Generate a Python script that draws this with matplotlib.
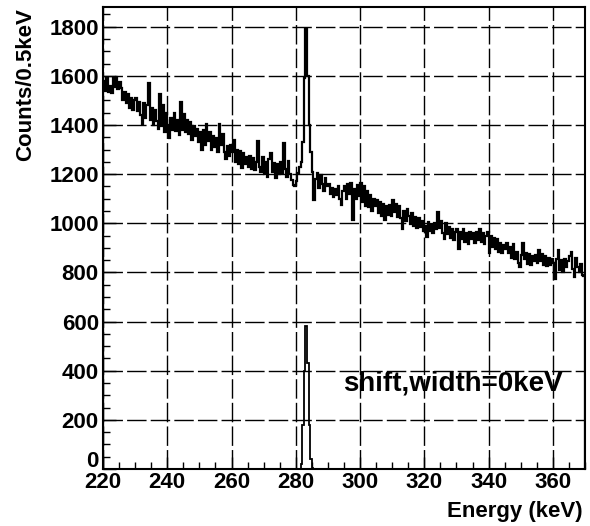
#!/usr/bin/env python3
# energy spectrum with peak at ~283 keV, ROOT-like look

import numpy as np
import matplotlib.pyplot as plt
import matplotlib.transforms as mtransforms

plt.rcParams['font.family'] = ['Liberation Sans', 'DejaVu Sans']
plt.rcParams['font.weight'] = 'bold'

# histogram binning (keV)
e_min, e_max, bin_width = 220.0, 370.0, 0.5

# total counts per 0.5 keV bin, 220 -> 370 keV (10 bins per row = 5 keV)
counts = [
    1580, 1540, 1590, 1535, 1560, 1530, 1590, 1555, 1595, 1545,   # 220
    1575, 1550, 1500, 1535, 1490, 1525, 1470, 1510, 1460, 1500,   # 225
    1510, 1455, 1495, 1440, 1405, 1490, 1430, 1480, 1570, 1420,   # 230
    1470, 1400, 1460, 1415, 1385, 1525, 1395, 1480, 1370, 1450,   # 235
    1400, 1345, 1430, 1380, 1450, 1375, 1420, 1360, 1495, 1380,   # 240
    1445, 1370, 1420, 1365, 1410, 1340, 1395, 1355, 1385, 1330,   # 245
    1370, 1300, 1380, 1320, 1405, 1335, 1370, 1300, 1355, 1310,   # 250
    1345, 1290, 1405, 1320, 1365, 1290, 1260, 1315, 1275, 1320,   # 255
    1290, 1340, 1250, 1300, 1240, 1295, 1225, 1285, 1240, 1270,   # 260
    1230, 1275, 1220, 1265, 1215, 1250, 1335, 1230, 1210, 1270,   # 265
    1200, 1250, 1190, 1260, 1285, 1210, 1245, 1185, 1240, 1200,   # 270
    1250, 1205, 1325, 1220, 1190, 1255, 1200, 1175, 1155, 1150,   # 275
    1170, 1205, 1230, 1250, 1330, 1590, 1790, 1600, 1400, 1290,   # 280
    1210, 1095, 1180, 1205, 1145, 1195, 1160, 1130, 1185, 1150,   # 285
    1160, 1120, 1145, 1105, 1140, 1115, 1150, 1100, 1075, 1130,   # 290
    1150, 1100, 1160, 1120, 1165, 1015, 1140, 1100, 1155, 1110,   # 295
    1165, 1085, 1150, 1070, 1130, 1065, 1115, 1050, 1100, 1070,   # 300
    1095, 1040, 1085, 1030, 1080, 1015, 1070, 1035, 1075, 1030,   # 305
    1095, 1045, 1080, 1025, 1070, 1020, 975, 1050, 1010, 1060,    # 310
    1030, 995, 1040, 990, 1025, 980, 1020, 985, 1010, 970,        # 315
    990, 945, 1005, 970, 995, 960, 1000, 975, 1045, 980,          # 320
    1010, 960, 935, 1000, 955, 985, 940, 975, 930, 965,           # 325
    975, 895, 965, 935, 975, 925, 960, 915, 965, 935,             # 330
    960, 920, 965, 930, 975, 925, 960, 915, 950, 965,             # 335
    880, 950, 905, 940, 895, 935, 885, 920, 880, 910,             # 340
    895, 920, 880, 905, 860, 915, 855, 885, 840, 820,             # 345
    870, 920, 855, 880, 835, 875, 830, 865, 845, 870,             # 350
    840, 890, 845, 875, 830, 865, 825, 860, 830, 855,             # 355
    840, 775, 855, 890, 810, 850, 800, 855, 820, 845,             # 360
    865, 885, 815, 780, 860, 820, 800, 835, 790, 785,             # 365
]

# peak-only histogram (non-zero bins, lower bin edge in keV)
peak_lo_edges = [281.5, 282.0, 282.5, 283.0, 283.5, 284.0, 284.5, 285.0]
peak_counts = [20, 180, 400, 580, 430, 180, 40, 5]

label_text = "shift,width=0keV"

# build histograms
edges = np.arange(e_min, e_max + bin_width / 2, bin_width)
peak_hist = np.zeros(len(edges) - 1)
for lo, c in zip(peak_lo_edges, peak_counts):
    peak_hist[int(round((lo - e_min) / bin_width))] = c

fig = plt.figure(figsize=(5.9, 5.26), dpi=100)
ax = fig.add_axes([0.1746, 0.1084, 0.8169, 0.8783])

ax.stairs(counts, edges, color='black', linewidth=1.6)
ax.stairs(peak_hist, edges, color='black', linewidth=1.3)

ax.set_xlim(e_min, e_max)
ax.set_ylim(0, 1880)
ax.set_xticks(np.arange(220, 361, 20))
ax.set_xticks(np.arange(220, 371, 5), minor=True)
ax.set_yticks(np.arange(0, 1801, 200))
ax.set_yticks(np.arange(0, 1851, 50), minor=True)

ax.tick_params(which='both', direction='in', top=False, right=False,
               labelsize=16, width=1.0)
ax.tick_params(which='major', length=9)
ax.tick_params(which='minor', length=5)
ax.tick_params(axis='x', pad=2)
ax.tick_params(axis='y', pad=3)
for lab in ax.get_xticklabels() + ax.get_yticklabels():
    lab.set_fontweight('bold')
# ROOT puts the "0" label a bit above the axis corner
zero_lab = ax.get_yticklabels()[0]
zero_lab.set_transform(zero_lab.get_transform() +
                       mtransforms.ScaledTranslation(0, 7 / 72, fig.dpi_scale_trans))

ax.grid(True, which='major', color='black', linewidth=1.0,
        linestyle=(0, (14, 3)))
ax.set_axisbelow(True)
for s in ax.spines.values():
    s.set_linewidth(1.5)

ax.text(294.6, 348, label_text, fontsize=20, fontweight='bold',
        ha='left', va='center')

fig.text(0.988, 0.028, "Energy (keV)", fontsize=16, fontweight='bold',
         ha='right', va='center')
fig.text(0.044, 0.985, "Counts/0.5keV", fontsize=16, fontweight='bold',
         ha='center', va='top', rotation=90)

fig.savefig("out.png", dpi=100, facecolor='white')
